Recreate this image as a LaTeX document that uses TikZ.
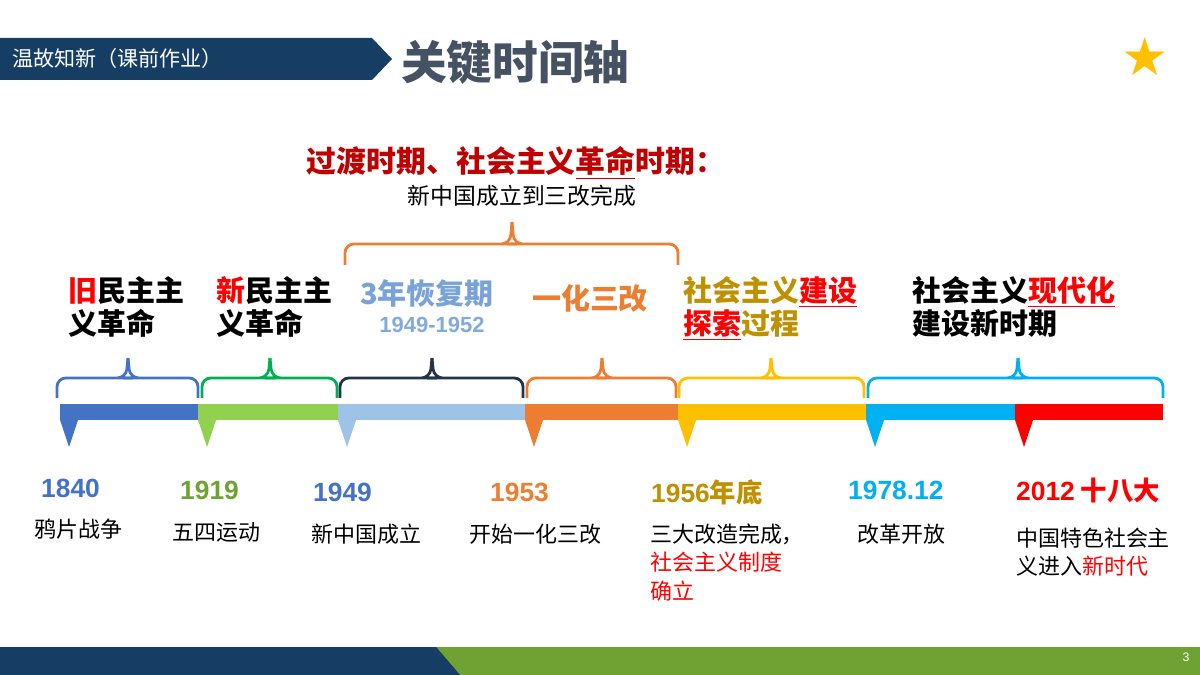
\documentclass[tikz,border=0pt]{standalone}
\usepackage{fontspec}
\setmainfont{Noto Sans CJK SC}
\newfontfamily\lat{Liberation Sans}
\begin{document}
\begin{tikzpicture}[x=0.02cm,y=-0.02cm,
 br/.style={line width=1.6pt,rounded corners=5pt},
 yr/.style={font=\bfseries\fontsize{15}{15}\selectfont,anchor=west},
 ev/.style={font=\fontsize{12.5}{16}\selectfont,anchor=north west,align=left},
 hd/.style={font=\bfseries\fontsize{16.5}{19}\selectfont,align=left,anchor=north west}]
\definecolor{navy}{HTML}{163E64}
\definecolor{grn}{HTML}{6FA233}
\definecolor{cb}{HTML}{4472C4}\definecolor{cg}{HTML}{92D050}\definecolor{cl}{HTML}{9DC3E6}
\definecolor{co}{HTML}{ED7D31}\definecolor{cy}{HTML}{FFC000}\definecolor{cc}{HTML}{00B0F0}
\definecolor{cr}{HTML}{FF0000}\definecolor{dred}{HTML}{C00000}\definecolor{gold}{HTML}{BF9000}
\definecolor{gbr}{HTML}{00B050}\definecolor{dk}{HTML}{243447}
\useasboundingbox (0,0) rectangle (1200,675);
\fill[white] (0,0) rectangle (1200,675);
% header
\fill[navy] (0,38) -- (372,38) -- (392,59) -- (372,80) -- (0,80) -- cycle;
\node[anchor=west,text=white,font=\fontsize{12}{12}\selectfont] (hdr) at (6,58) {温故知新（课前作业）};
\node[anchor=west,text=dk!85,font=\bfseries\fontsize{26}{26}\selectfont] (ttl) at (395,62) {关键时间轴};
\node[text=cy,font=\fontsize{30}{30}\selectfont] (star) at (1145,57) {\fontspec{DejaVu Sans}★};
% footer
\fill[navy] (0,647) rectangle (460,675);
\fill[grn] (436,647) -- (1200,647) -- (1200,675) -- (460,675) -- cycle;
\fill[navy] (436,647) -- (460,675) -- (450,675) -- (428,647) -- cycle;
\node[text=white,font=\lat\fontsize{7}{7}\selectfont] (pg) at (1186,657) {3};
% bars
\foreach \a/\b/\c in {60/198/cb,198/338/cg,338/525/cl,525/678/co,678/866/cy,866/1015/cc,1015/1163/cr}{
 \fill[\c] (\a,404) rectangle (\b,420);
 \fill[\c] (\a,420) -- (\a+18,420) -- (\a+9,447) -- cycle;}
% braces
\foreach \a/\b/\m/\c in {57/198/128/cb,202/337/270/gbr,340/523/432/dk,527/676/602/co,679/864/771/cy,868/1163/1018/cc}{
 \draw[br,\c] (\a,398) -- (\a,378) -- (\m-4,378) -- (\m-2,378) -- (\m,358);
 \draw[br,\c] (\b,398) -- (\b,378) -- (\m+4,378) -- (\m+2,378) -- (\m,358);}
\draw[br,co] (345,265) -- (345,244) -- (508,244) -- (510,244) -- (512,222);
\draw[br,co] (678,265) -- (678,244) -- (516,244) -- (514,244) -- (512,222);
% period headings
\node[font=\bfseries\fontsize{17}{17}\selectfont,text=dred] (p0) at (516,163) {过渡时期、社会主义\underline{革命}时期：};
\node[font=\fontsize{13}{13}\selectfont] (p0b) at (522,196) {新中国成立到三改完成};
\node[hd] (h1) at (62,270) {\textcolor{cr}{旧}民主主\\义革命};
\node[hd] (h2) at (210,270) {\textcolor{cr}{新}民主主\\义革命};
\node[font=\bfseries\fontsize{16.5}{16.5}\selectfont,text=cl!60!cb] (h3) at (427,293) {3年恢复期};
\node[font=\lat\bfseries\fontsize{12.5}{12.5}\selectfont,text=cl!70!cb] (h3b) at (432,325) {1949-1952};
\node[font=\bfseries\fontsize{16.5}{16.5}\selectfont,text=co] (h4) at (590,298) {一化三改};
\node[hd,text=gold] (h5) at (677,270) {社会主义\textcolor{cr}{\underline{建设}}\\\textcolor{cr}{\underline{探索}}过程};
\node[hd] (h6) at (906,270) {社会主义\textcolor{cr}{\underline{现代化}}\\建设新时期};
% years
\node[yr,text=cb] (y1) at (35,488) {\lat 1840};
\node[yr,text=grn] (y2) at (174,490) {\lat 1919};
\node[yr,text=cb] (y3) at (307,492) {\lat 1949};
\node[yr,text=co] (y4) at (484,492) {\lat 1953};
\node[yr,text=gold] (y5) at (645,492) {{\lat 1956}年底};
\node[yr,text=cc] (y6) at (842,490) {\lat 1978.12};
\node[yr,text=cr] (y7) at (1010,490) {{\lat 2012} 十八大};
\node[ev] (e1) at (28,513) {鸦片战争};
\node[ev] (e2) at (166,516) {五四运动};
\node[ev] (e3) at (305,518) {新中国成立};
\node[ev] (e4) at (463,518) {开始一化三改};
\node[ev] (e5) at (644,518) {三大改造完成，\\\textcolor{cr}{社会主义制度}\\\textcolor{cr}{确立}};
\node[ev] (e6) at (851,518) {改革开放};
\node[ev] (e7) at (1010,522) {中国特色社会主\\义进入\textcolor{cr}{新时代}};
\end{tikzpicture}
\end{document}
